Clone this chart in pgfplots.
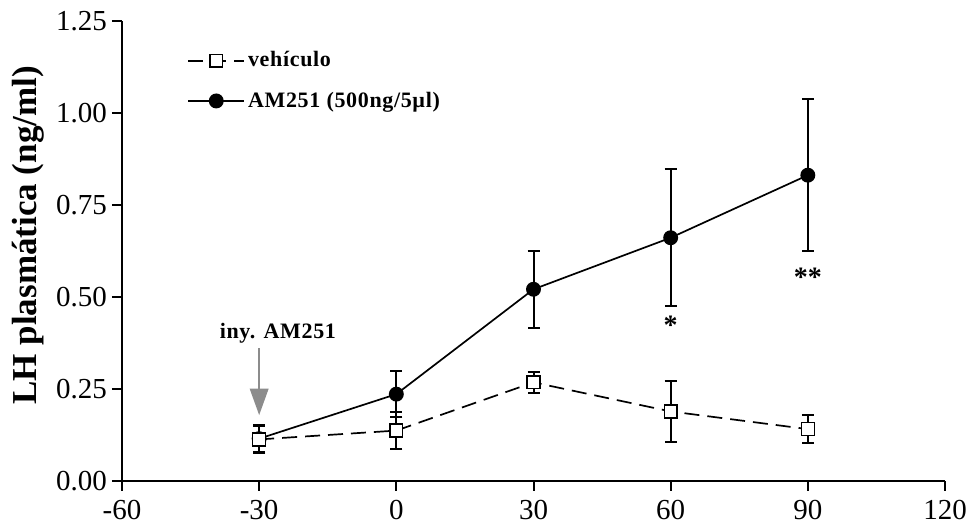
\documentclass[border=0pt]{standalone}
\usepackage{fontspec}
\setmainfont{Liberation Serif}
\newfontfamily\spaced[LetterSpace=3]{Liberation Serif}
\usepackage{pgfplots}
\usepackage{pgfplotstable}
\pgfplotsset{compat=1.18}
\usetikzlibrary{arrows.meta}

% time (min), mean LH (ng/ml), SEM
\pgfplotstableread{
t    y      e
-30  0.113  0.037
0    0.137  0.051
30   0.268  0.029
60   0.189  0.082
90   0.141  0.038
}\vehiculo

\pgfplotstableread{
t    y      e
-30  0.115  0.037
0    0.236  0.063
30   0.521  0.105
60   0.661  0.186
90   0.831  0.207
}\amtab

\newcommand{\legfont}{\spaced\bfseries\fontsize{11}{13}\selectfont}

\begin{document}
\begin{tikzpicture}
\begin{axis}[
  scale only axis,
  width=411.5pt, height=230pt,
  xmin=-60, xmax=120, ymin=0, ymax=1.25,
  axis x line*=bottom, axis y line*=left,
  axis line style={line width=1pt, black},
  xtick={-60,-30,0,30,60,90,120},
  xticklabels={-60,-30,0,30,60,90,120},
  ytick={0,0.25,0.5,0.75,1,1.25},
  yticklabels={0.00,0.25,0.50,0.75,1.00,1.25},
  tick align=outside, major tick length=5pt,
  tick style={line width=1pt, black},
  ticklabel style={font=\fontsize{14.5}{16}\selectfont},
  yticklabel style={xshift=1pt},
  xticklabel style={yshift=-1pt},
  ylabel={LH plasmática (ng/ml)},
  ylabel style={font=\bfseries\fontsize{17.5}{20}\selectfont,
    at={(axis description cs:-0.1142,0.534)}, anchor=center},
  clip=false,
  reverse legend,
  legend cell align=left,
  legend image code/.code={\draw[mark repeat=2, mark phase=2, #1]
    plot coordinates {(0pt,0pt) (14pt,0pt) (28pt,0pt)};},
  legend style={at={(axis description cs:0.079,0.941)}, anchor=north west,
    draw=none, fill=none, inner sep=0pt, row sep=8pt, font=\legfont,
    nodes={inner sep=1.5pt}},
]
% AM251 group
\addplot[black, line width=0.85pt, mark=*, mark size=3.3pt,
  mark options={solid, fill=black},
  error bars/.cd, y dir=both, y explicit,
  error bar style={line width=1pt, solid, black},
  error mark options={rotate=90, mark size=3pt, line width=1pt, black}]
  table[x=t, y=y, y error=e] {\amtab};
\addlegendentry{AM251 (500ng/5µl)}

% vehicle group
\addplot[black, line width=0.85pt, dash pattern=on 7.5pt off 4pt,
  mark=square*, mark size=3.2pt,
  mark options={solid, fill=white, line width=0.7pt},
  error bars/.cd, y dir=both, y explicit,
  error bar style={line width=1pt, solid, black},
  error mark options={rotate=90, mark size=3pt, line width=1pt, black}]
  table[x=t, y=y, y error=e] {\vehiculo};
\addlegendentry{vehículo}

% injection marker
\draw[color=black!45, line width=1pt,
  -{Triangle[width=9.3pt, length=13.3pt]}]
  (axis cs:-30,0.361) -- (axis cs:-30,0.179);
\node[font=\legfont] at (axis cs:-25.9,0.402) {iny. AM251};

% significance marks
\node[font=\bfseries\fontsize{14}{16}\selectfont, yshift=-3pt] at (axis cs:60,0.44) {*};
\node[font=\bfseries\fontsize{14}{16}\selectfont, yshift=-3pt] at (axis cs:90,0.569) {**};
\end{axis}
\pgfresetboundingbox
\useasboundingbox (-61pt,-21.5pt) rectangle (424pt,240.5pt);
\end{tikzpicture}
\end{document}
